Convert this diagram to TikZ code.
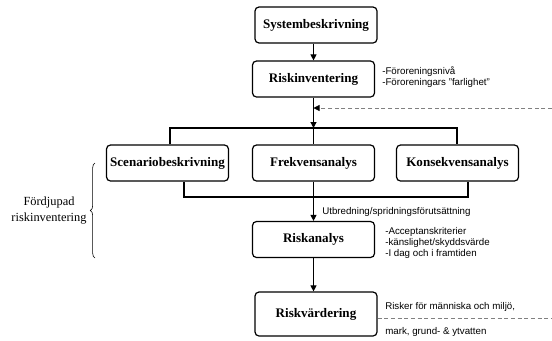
\documentclass[tikz,border=0pt]{standalone}
\usepackage{fontspec}
\setmainfont{Liberation Serif}
\setsansfont{Liberation Sans}
\usetikzlibrary{arrows.meta,decorations.pathreplacing}
\begin{document}
\begin{tikzpicture}[x=0.75pt,y=0.75pt,
  box/.style={draw,line width=0.9pt,rounded corners=3pt,minimum width=91.5pt,minimum height=27pt,inner sep=0pt,font=\fontsize{9.8}{11}\selectfont\bfseries},
  conn/.style={line width=0.8pt},
  bar/.style={line width=1.2pt},
  arr/.style={conn,-{Triangle[width=4.5pt,length=4.5pt]}},
  note/.style={anchor=west,inner sep=0pt,font=\fontsize{7.3}{7.9}\sffamily\selectfont,align=left},
  grayline/.style={draw=gray,line width=0.6pt,dash pattern=on 3pt off 2pt}]
\useasboundingbox (0,0) rectangle (552,-340);
\node[box] (sys) at (316,-25) {Systembeskrivning};
\node[box] (inv) at (313.5,-79) {Riskinventering};
\node[box] (scen) at (167.5,-163) {Scenariobeskrivning};
\node[box] (frek) at (313.5,-163) {Frekvensanalys};
\node[box] (kons) at (457.5,-163) {Konsekvensanalys};
\node[box] (ana) at (313.5,-239.5) {Riskanalys};
\node[box,minimum height=33pt] (varr) at (316,-314) {Riskvärdering};
% bars
\coordinate (tbL) at (170,-128);
\coordinate (tbM) at (313.5,-128);
\coordinate (tbR) at (457,-128);
\coordinate (bbL) at (184,-197);
\coordinate (bbM) at (313.5,-197);
\coordinate (bbR) at (468,-197);
\coordinate (dstart) at (552,-108);
\coordinate (dend) at (313.5,-108);
\coordinate (vstart) at (552,-318);
\draw[arr] (sys.south -| inv.north) -- (inv.north);
\draw[arr] (inv.south) -- (tbM);
\draw[bar] (tbL |- scen.north) -- (tbL) -- (tbR) -- (tbR |- kons.north);
\draw[conn] (tbM) -- (frek.north);
\draw[bar] (bbL |- scen.south) -- (bbL) -- (bbR) -- (bbR |- kons.south);
\draw[conn] (frek.south) -- (bbM);
\draw[arr] (bbM) -- (ana.north);
\draw[arr] (ana.south) -- (ana.south |- varr.north);
\draw[grayline,-{Triangle[width=4.5pt,length=4.5pt,color=black]}] (dstart) -- (dend);
\draw[grayline] (varr.east |- vstart) -- (vstart);
% notes
\node[note] (n1) at (382,-77) {-Föroreningsnivå\\-Föroreningars "farlighet"};
\node[note] (n2) at (322,-212) {Utbredning/spridningsförutsättning};
\node[note] (n3) at (385,-243) {-Acceptanskriterier\\-känslighet/skyddsvärde\\-I dag och i framtiden};
\node[note] (n4) at (385,-307) {Risker för människa och miljö,};
\node[note] (n5) at (385,-332) {mark, grund- \& ytvatten};
% brace
\coordinate (brB) at (95,-258);
\coordinate (brT) at (95,-163);
\draw[line width=0.45pt,decorate,decoration={brace,amplitude=3.5pt}] (brB) -- (brT);
\node[align=center,font=\fontsize{9.3}{12}\selectfont] (fd) at (49,-211) {Fördjupad\\riskinventering};
\end{tikzpicture}
\end{document}
